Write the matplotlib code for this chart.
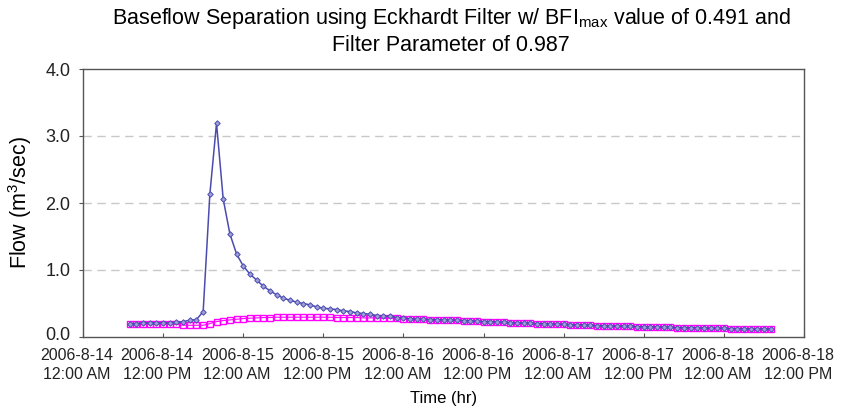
import matplotlib
matplotlib.use("Agg")
import matplotlib.pyplot as plt
import matplotlib.transforms as mtransforms

# hours since 2006-8-14 12:00 AM, hourly readings
hours = list(range(7, 104))

# total streamflow (m3/sec)
flow = [0.20, 0.20, 0.21, 0.21, 0.21, 0.21, 0.21, 0.22, 0.23, 0.25,
        0.26, 0.38, 2.13, 3.19, 2.06, 1.54, 1.24, 1.06, 0.94, 0.85,
        0.76, 0.69, 0.63, 0.58, 0.55, 0.52, 0.50, 0.48, 0.45, 0.43,
        0.42, 0.41, 0.39, 0.38, 0.36, 0.35, 0.34, 0.32, 0.31, 0.31,
        0.29, 0.28, 0.27, 0.27, 0.265, 0.26, 0.26, 0.255, 0.25, 0.25,
        0.245, 0.24, 0.235, 0.23, 0.23, 0.225, 0.22, 0.215, 0.21, 0.21,
        0.205, 0.20, 0.20, 0.195, 0.19, 0.19, 0.185, 0.18, 0.18, 0.175,
        0.17, 0.17, 0.165, 0.165, 0.16, 0.16, 0.155, 0.155, 0.15, 0.15,
        0.145, 0.145, 0.14, 0.14, 0.14, 0.135, 0.135, 0.13, 0.13, 0.13,
        0.125, 0.125, 0.125, 0.12, 0.12, 0.12, 0.12]

# Eckhardt baseflow (m3/sec)
baseflow = [0.19, 0.19, 0.19, 0.19, 0.19, 0.19, 0.19, 0.19, 0.175, 0.175,
            0.175, 0.175, 0.20, 0.23, 0.245, 0.255, 0.265, 0.275, 0.28, 0.285,
            0.29, 0.29, 0.295, 0.295, 0.295, 0.295, 0.295, 0.295, 0.295, 0.295,
            0.295, 0.29, 0.29, 0.29, 0.29, 0.285, 0.285, 0.285, 0.28, 0.28,
            0.28, 0.275, 0.27, 0.27, 0.265, 0.26, 0.26, 0.255, 0.25, 0.25,
            0.245, 0.24, 0.235, 0.23, 0.23, 0.225, 0.22, 0.215, 0.21, 0.21,
            0.205, 0.20, 0.20, 0.195, 0.19, 0.19, 0.185, 0.18, 0.18, 0.175,
            0.17, 0.17, 0.165, 0.165, 0.16, 0.16, 0.155, 0.155, 0.15, 0.15,
            0.145, 0.145, 0.14, 0.14, 0.14, 0.135, 0.135, 0.13, 0.13, 0.13,
            0.125, 0.125, 0.125, 0.12, 0.12, 0.12, 0.12]

tick_hours = [0, 12, 24, 36, 48, 60, 72, 84, 96, 108]
tick_labels = ["2006-8-14\n12:00 AM", "2006-8-14\n12:00 PM",
               "2006-8-15\n12:00 AM", "2006-8-15\n12:00 PM",
               "2006-8-16\n12:00 AM", "2006-8-16\n12:00 PM",
               "2006-8-17\n12:00 AM", "2006-8-17\n12:00 PM",
               "2006-8-18\n12:00 AM", "2006-8-18\n12:00 PM"]
y_ticks = [0.0, 1.0, 2.0, 3.0, 4.0]

plt.rcParams["font.family"] = ["Liberation Sans", "DejaVu Sans"]
plt.rcParams["mathtext.fontset"] = "custom"
plt.rcParams["mathtext.rm"] = "Liberation Sans"

fig = plt.figure(figsize=(8.43, 4.09), dpi=100)
ax = fig.add_axes([83 / 843, 72 / 409, 721 / 843, 268 / 409])

ax.plot(hours, baseflow, color="#ff00ff", linewidth=0.8, marker="s", markersize=3.8,
        markerfacecolor="none", markeredgecolor="#ff00ff", markeredgewidth=1.0, zorder=3)
ax.plot(hours, flow, color="#4b4bb0", linewidth=1.1, marker="D", markersize=2.8,
        markerfacecolor="#a0a0d8", markeredgecolor="#4b4bb0", markeredgewidth=0.7, zorder=4)

ax.set_xlim(0, 108)
ax.set_ylim(0, 4)
ax.set_xticks(tick_hours)
ax.set_xticklabels(tick_labels, fontsize=11.5, color="#222222", linespacing=1.3)
ax.set_yticks(y_ticks)
ax.set_yticklabels([f"{v:.1f}" for v in y_ticks], fontsize=13, color="#222222")
ax.tick_params(axis="x", direction="in", length=3, pad=8, color="#555555")
ax.tick_params(axis="y", direction="out", length=3, pad=6, color="#555555")
offset = mtransforms.ScaledTranslation(-6 / 100, 0, fig.dpi_scale_trans)
for lbl in ax.get_xticklabels():
    lbl.set_transform(lbl.get_transform() + offset)
# lift the 0.0 label a touch so it clears the first date label
lift = mtransforms.ScaledTranslation(0, 3 / 100, fig.dpi_scale_trans)
zero_lbl = ax.get_yticklabels()[0]
zero_lbl.set_transform(zero_lbl.get_transform() + lift)

for v in [1.0, 2.0, 3.0]:
    ax.axhline(v, color="#c8c8c8", linewidth=1.0, linestyle=(0, (6, 4)), zorder=1)

for s in ax.spines.values():
    s.set_color("#555555")
    s.set_linewidth(1.0)

ax.set_ylabel("Flow (m$^3$/sec)", fontsize=15.5, labelpad=8)
ax.set_xlabel("Time (hr)", fontsize=12, labelpad=7)

fig.text(0.535, 0.955, "Baseflow Separation using Eckhardt Filter w/ BFI$_\\mathregular{max}$ value of 0.491 and",
         ha="center", va="center", fontsize=15.5)
fig.text(0.535, 0.888, "Filter Parameter of 0.987", ha="center", va="center", fontsize=15.5)

fig.savefig("out.png", dpi=100)
